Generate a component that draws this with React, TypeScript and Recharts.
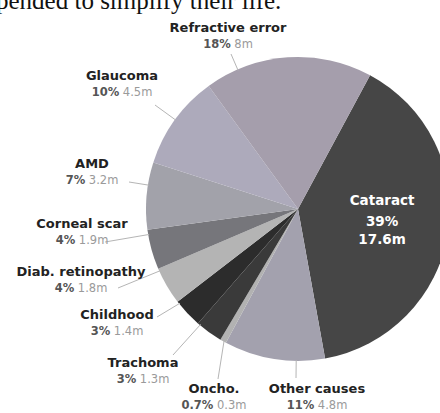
import { PieChart, Pie, Cell } from "recharts";

// causes of blindness, clockwise from the top-right
const causes = [
  "Cataract",
  "Other causes",
  "Oncho.",
  "Trachoma",
  "Childhood",
  "Diab. retinopathy",
  "Corneal scar",
  "AMD",
  "Glaucoma",
  "Refractive error",
];
const shares = ["39%", "11%", "0.7%", "3%", "3%", "4%", "4%", "7%", "10%", "18%"];
const millions = [17.6, 4.8, 0.3, 1.3, 1.4, 1.8, 1.9, 3.2, 4.5, 8];

const colors = [
  "#464646",
  "#a3a1ae",
  "#b2b2b2",
  "#3a3a3a",
  "#2c2c2c",
  "#b4b4b4",
  "#76767b",
  "#a2a2aa",
  "#adaabb",
  "#a59eac",
];

const data = causes.map((cause, i) => ({ cause, value: millions[i], share: shares[i] }));

// label placement relative to the pie centre: text position + where the leader starts
type LabelPos = { dx: number; dy: number; lx: number; ly: number };
const labelLayout: Record<string, LabelPos> = {
  "Refractive error": { dx: -70, dy: -177, lx: -67, ly: -155 },
  Glaucoma: { dx: -176, dy: -129, lx: -143, ly: -104 },
  AMD: { dx: -206, dy: -41, lx: -169, ly: -27 },
  "Corneal scar": { dx: -216, dy: 19, lx: -193, ly: 33 },
  "Diab. retinopathy": { dx: -217, dy: 67, lx: -180, ly: 79 },
  Childhood: { dx: -181, dy: 110, lx: -141, ly: 108 },
  Trachoma: { dx: -155, dy: 158, lx: -125, ly: 146 },
  "Oncho.": { dx: -84, dy: 184, lx: -80, ly: 170 },
  "Other causes": { dx: 19, dy: 184, lx: -2, ly: 169 },
};

const RAD = Math.PI / 180;
const polar = (cx: number, cy: number, r: number, angle: number) => ({
  x: cx + r * Math.cos(-angle * RAD),
  y: cy + r * Math.sin(-angle * RAD),
});

const FONT = "'DejaVu Sans', sans-serif";

const renderLabel = (props: any) => {
  const { cx, cy, midAngle, outerRadius, percent, payload } = props;
  const name = payload.cause;
  const value = `${payload.value}m`;

  if (name === "Cataract") {
    const p = polar(cx, cy, outerRadius * 0.56, midAngle);
    return (
      <text x={p.x} y={p.y - 17} textAnchor="middle" fill="#fff" fontFamily={FONT} fontWeight="bold" fontSize={13.5}>
        <tspan x={p.x}>{name}</tspan>
        <tspan x={p.x} dy={21}>{payload.share}</tspan>
        <tspan x={p.x} dy={18}>{value}</tspan>
      </text>
    );
  }

  const pos = labelLayout[name];
  if (!pos) return null;
  const tx = cx + pos.dx;
  const ty = cy + pos.dy;
  const sx = cx + pos.lx;
  const sy = cy + pos.ly;

  // leader points at the slice edge, clamped inside the slice
  const toStart = Math.atan2(-(sy - cy), sx - cx) / RAD;
  let diff = ((toStart - midAngle + 540) % 360) - 180;
  const half = Math.max(0, (percent * 360) / 2 - 1);
  diff = Math.max(-half, Math.min(half, diff));
  const e = polar(cx, cy, outerRadius - 1, midAngle + diff);

  return (
    <g>
      <line x1={sx} y1={sy} x2={e.x} y2={e.y} stroke="#b5b5b5" strokeWidth={1} />
      <text x={tx} y={ty} textAnchor="middle" fontFamily={FONT} fontWeight="bold" fontSize={13} fill="#222">
        {name}
      </text>
      <text x={tx} y={ty + 16} textAnchor="middle" fontFamily={FONT} fontSize={11.5}>
        <tspan fill="#555" fontWeight="bold">{payload.share}</tspan>
        <tspan fill="#9a9a9a"> {value}</tspan>
      </text>
    </g>
  );
};

export default function App() {
  return (
    <div style={{ position: "absolute", left: 0, top: 0, width: 440, height: 413, overflow: "hidden", background: "#fff" }}>
      <div
        style={{
          position: "absolute",
          left: -4,
          top: -13,
          fontFamily: "'Liberation Serif', serif",
          fontSize: 25,
          color: "#111",
          whiteSpace: "nowrap",
        }}
      >
        pended to simplify their life.
      </div>
      <PieChart width={440} height={413}>
        <Pie
          data={data}
          dataKey="value"
          nameKey="cause"
          cx={293}
          cy={204}
          outerRadius={152}
          startAngle={61.7}
          endAngle={-298.3}
          stroke="none"
          label={renderLabel}
          labelLine={false}
          isAnimationActive={false}
        >
          {data.map((d, i) => (
            <Cell key={d.cause} fill={colors[i]} />
          ))}
        </Pie>
      </PieChart>
    </div>
  );
}
